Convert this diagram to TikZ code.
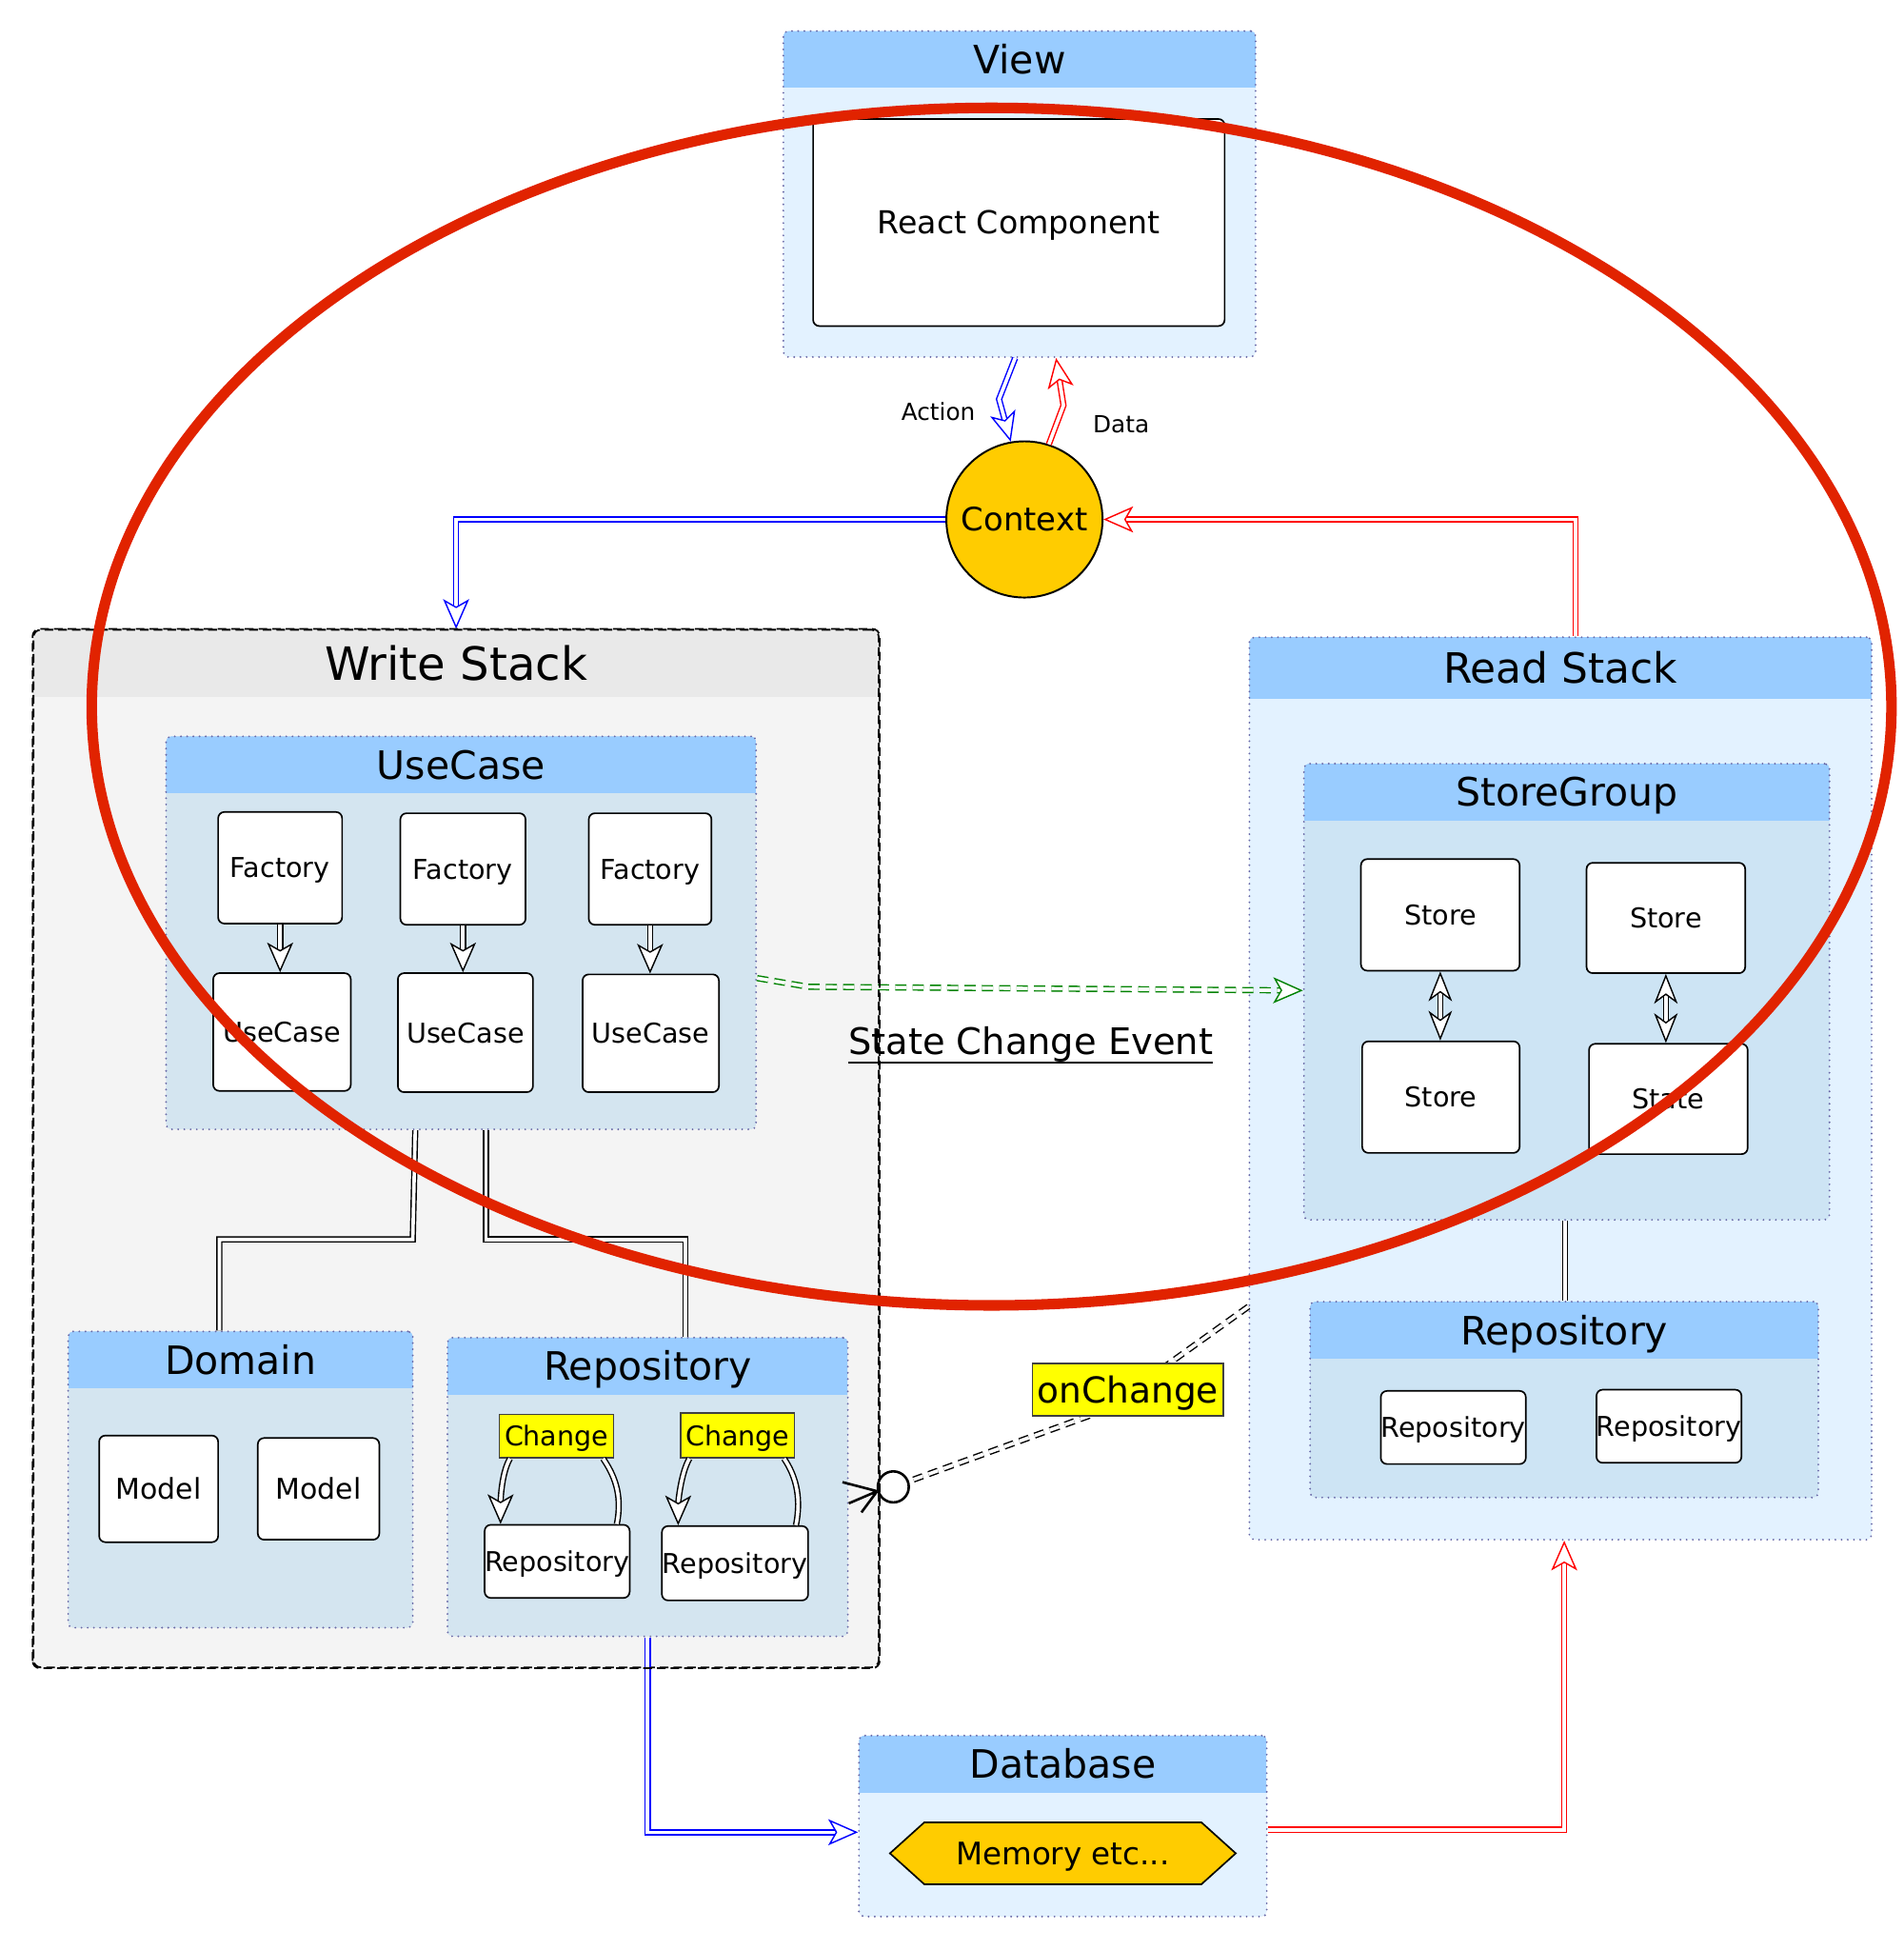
\documentclass[tikz,border=0pt]{standalone}
\usepackage{fontspec}
\setmainfont{DejaVu Sans}
\usetikzlibrary{arrows.meta,shapes.symbols,shapes.geometric,calc}
\definecolor{hdr}{HTML}{99CCFF}
\definecolor{lb}{HTML}{E3F2FF}
\definecolor{ib}{HTML}{D4E5F0}
\definecolor{ibb}{HTML}{CDE4F4}
\definecolor{wsh}{HTML}{E9E9E9}
\definecolor{wsb}{HTML}{F4F4F4}
\definecolor{dotc}{HTML}{6A6AA8}
\definecolor{ctxc}{HTML}{FFCC00}
\definecolor{ellc}{RGB}{225,35,0}
\definecolor{grn}{RGB}{0,130,0}
\definecolor{bl}{RGB}{0,0,255}
\definecolor{rd}{RGB}{255,0,0}
\definecolor{ylw}{HTML}{FFFF00}
\newcommand\fs[1]{\fontsize{#1}{#1}\selectfont}
\begin{document}
\begin{tikzpicture}[x=1pt,y=-1pt,
 fsz/.style={font=\fs{#1}, text height=0.73*#1pt, text depth=0pt},
 hband/.style 2 args={path picture={\fill[#1, sharp corners] ([yshift=6pt]path picture bounding box.north west) rectangle ([yshift=-#2]path picture bounding box.north east);}},
 dotbox/.style={draw=dotc, line width=1.6pt, dash pattern=on 0pt off 5pt, line cap=round, rounded corners=4pt, inner sep=0pt},
 box/.style={draw=black, line width=1.3pt, fill=white, rounded corners=5pt, inner sep=0pt, fsz=22},
 ttl/.style={inner sep=0pt, fsz=31.5},
 chg/.style={draw=black!75, line width=1.2pt, fill=ylw, inner sep=0pt, fsz=21.9},
 dbl/.style={double=white, double distance=2.8pt, line width=1.1pt},
 Ot/.tip={Stealth[open, fill=white, line width=1.1pt, length=24pt, width=21pt, inset=6pt]},
 St/.tip={Stealth[open, fill=white, line width=1.1pt, length=24pt, width=19pt, inset=7pt]},
 lbl/.style={inner sep=0pt, fsz=19}
]
\useasboundingbox (0,0) rectangle (1536,1573);
\fill[white] (0,0) rectangle (1536,1573);

% ---------- containers ----------
\node[dotbox, fill=lb, hband={hdr}{46pt}, minimum width=381pt, minimum height=263pt] (view) at (822.5,156.5) {};
\node[ttl] at (822.5,48) {View};

\node[draw=black, line width=1.4pt, dash pattern=on 7pt off 4pt, rounded corners=6pt, fill=wsb, inner sep=0pt, hband={wsh}{54pt}, minimum width=682pt, minimum height=837pt] (ws) at (368,926.5) {};
\node[ttl, fsz=37] at (368,535) {Write Stack};

\node[dotbox, fill=ib, hband={hdr}{46pt}, minimum width=476pt, minimum height=317pt] (uc) at (372,752.5) {};
\node[ttl] at (372,617) {UseCase};

\node[dotbox, fill=ib, hband={hdr}{46pt}, minimum width=278pt, minimum height=239pt] (dom) at (194,1193.5) {};
\node[ttl] at (194,1097) {Domain};

\node[dotbox, fill=ib, hband={hdr}{46pt}, minimum width=323pt, minimum height=241pt] (repoL) at (522.5,1199.5) {};
\node[ttl] at (522.5,1102) {Repository};

\node[dotbox, fill=lb, hband={hdr}{50pt}, minimum width=502pt, minimum height=728pt] (rs) at (1259,878) {};
\node[ttl, fsz=33.7] at (1259,539) {Read Stack};

\node[dotbox, fill=ibb, hband={hdr}{46pt}, minimum width=424pt, minimum height=368pt] (sg) at (1264,800) {};
\node[ttl] at (1264,639) {StoreGroup};

\node[dotbox, fill=ibb, hband={hdr}{46pt}, minimum width=410pt, minimum height=158pt] (rr) at (1262,1129) {};
\node[ttl] at (1262,1073) {Repository};

\node[dotbox, fill=lb, hband={hdr}{46pt}, minimum width=329pt, minimum height=146pt] (db) at (857.5,1473) {};
\node[ttl] at (857.5,1423) {Database};

% ---------- inner boxes ----------
\node[box, fsz=25.5, minimum width=332pt, minimum height=167pt] (react) at (822,179.5) {React Component};
\node[circle, draw=black, line width=1.5pt, fill=ctxc, minimum size=126pt, inner sep=0pt, fsz=26] (ctx) at (826.5,419) {Context};

\node[box, minimum width=100pt, minimum height=90pt] (f1) at (226,700) {Factory};
\node[box, minimum width=101pt, minimum height=90pt] (f2) at (373.5,701) {Factory};
\node[box, minimum width=99pt, minimum height=90pt] (f3) at (524.5,701) {Factory};
\node[box, minimum width=111pt, minimum height=95pt] (u1) at (227.5,832.5) {UseCase};
\node[box, minimum width=109pt, minimum height=96pt] (u2) at (375.5,833) {UseCase};
\node[box, minimum width=110pt, minimum height=95pt] (u3) at (525,833.5) {UseCase};

\node[box, fsz=23, minimum width=96pt, minimum height=86pt] (m1) at (128,1201) {Model};
\node[box, fsz=23, minimum width=98pt, minimum height=82pt] (m2) at (257,1201) {Model};

\node[box, minimum width=117pt, minimum height=59pt] (r1) at (449.5,1259.5) {Repository};
\node[box, minimum width=118pt, minimum height=60pt] (r2) at (593,1261) {Repository};

\node[box, minimum width=128pt, minimum height=90pt] (s1) at (1162,738) {Store};
\node[box, minimum width=128pt, minimum height=89pt] (s2) at (1344,740.5) {Store};
\node[box, minimum width=127pt, minimum height=90pt] (s3) at (1162.5,885) {Store};
\node[box, minimum width=128pt, minimum height=89pt] (st) at (1346,886.5) {State};

\node[box, minimum width=117pt, minimum height=59pt] (R1) at (1172.5,1151.5) {Repository};
\node[box, minimum width=117pt, minimum height=59pt] (R2) at (1346.5,1150.5) {Repository};

\node[signal, signal to=west and east, signal pointer angle=84, draw=black, line width=1.3pt, fill=ctxc, minimum width=279pt, minimum height=50pt, inner sep=0pt, fsz=25] (mem) at (857.5,1495) {Memory etc...};

% ---------- connectors ----------
\draw[dbl, draw=bl, -Ot] ([xshift=-3.5pt]view.south) -- (806,322) -- (ctx.100);
\draw[dbl, draw=rd, -Ot] (ctx.72) -- (858,327) -- ([xshift=29.5pt]view.south);
\node[lbl] (act) at (757,332) {Action};
\node[lbl] (dat) at (904.5,342) {Data};

\draw[dbl, draw=bl, -Ot] (ctx.west) -| (ws.north);
\draw[dbl, draw=rd, -Ot] ([xshift=12pt]rs.north) |- (ctx.east);

\draw[dbl, -Ot] (f1.south) -- (f1.south |- u1.north);
\draw[dbl, -Ot] (f2.south) -- (f2.south |- u2.north);
\draw[dbl, -Ot] (f3.south) -- (f3.south |- u3.north);

\draw[dbl] ([xshift=-37pt]uc.south) -- ++(-2,88) -| ([xshift=-17pt]dom.north);
\draw[dbl] ([xshift=20pt]uc.south) -- ++(0,88) -| ([xshift=30.5pt]repoL.north);

\draw[dbl, St-St] (s1.south) -- (s1.south |- s3.north);
\draw[dbl, St-St] (s2.south) -- (s2.south |- st.north);
\draw[dbl] ([xshift=-1.5pt]sg.south) -- ([xshift=-1.5pt]sg.south |- rr.north);

\draw[dbl, draw=grn, dash pattern=on 9pt off 5pt, -Ot] ([yshift=-36.5pt]uc.east) -- (652,796) -- ([yshift=1pt]sg.west);

\draw[dbl, draw=bl, -Ot] (repoL.south) |- ([yshift=-5pt]db.west);
\draw[dbl, draw=rd, -Ot] ([yshift=-3pt]db.east) -| ([xshift=3pt]rs.south);

% change loops
\node[chg, minimum width=92pt, minimum height=35pt] (c1) at (449,1158.5) {Change};
\node[chg, minimum width=92pt, minimum height=36pt] (c2) at (595,1158) {Change};
\draw[dbl] ([xshift=-11pt]r1.north east) .. controls +(5,-25) and +(8,12) .. ([xshift=-9pt]c1.south east);
\draw[dbl, -Ot] ([xshift=9pt]c1.south west) .. controls +(-7,12) and +(0,-18) .. ([xshift=13.5pt]r1.north west);
\draw[dbl] ([xshift=-10.5pt]r2.north east) .. controls +(5,-25) and +(8,12) .. ([xshift=-9pt]c2.south east);
\draw[dbl, -Ot] ([xshift=7.8pt]c2.south west) .. controls +(-7,12) and +(0,-18) .. ([xshift=13.8pt]r2.north west);

% onChange
\node[circle, draw=black, line width=2pt, fill=white, minimum size=25pt, inner sep=0pt] (oc) at (720.7,1199.4) {};
\draw[dbl, dash pattern=on 8pt off 5pt] ([yshift=-176pt]rs.west) -- (890,1138) -- (oc);
\coordinate (cf) at (oc.195);
\draw[line width=2pt] (cf) -- (679.7,1195.6) (cf) -- (684.8,1212.7) (cf) -- (695,1220);
\node[chg, fsz=28.8, minimum width=154pt, minimum height=42pt] (onc) at (910,1121) {onChange};

% state change event
\node[font=\fs{29.5}, inner sep=0pt, anchor=base] (sce) at (831.5,851) {State Change Event};
\draw[line width=1.5pt] ([yshift=-6.5pt]sce.base west) -- ([yshift=-6.5pt]sce.base east);
\draw[line width=1.4pt, dash pattern=on 7pt off 4pt, rounded corners=6pt] (ws.south west) rectangle (ws.north east);

% ellipse overlay
\draw[ellc, line width=8.5pt] (800,570) ellipse [x radius=726pt, y radius=483pt];
\end{tikzpicture}
\end{document}
